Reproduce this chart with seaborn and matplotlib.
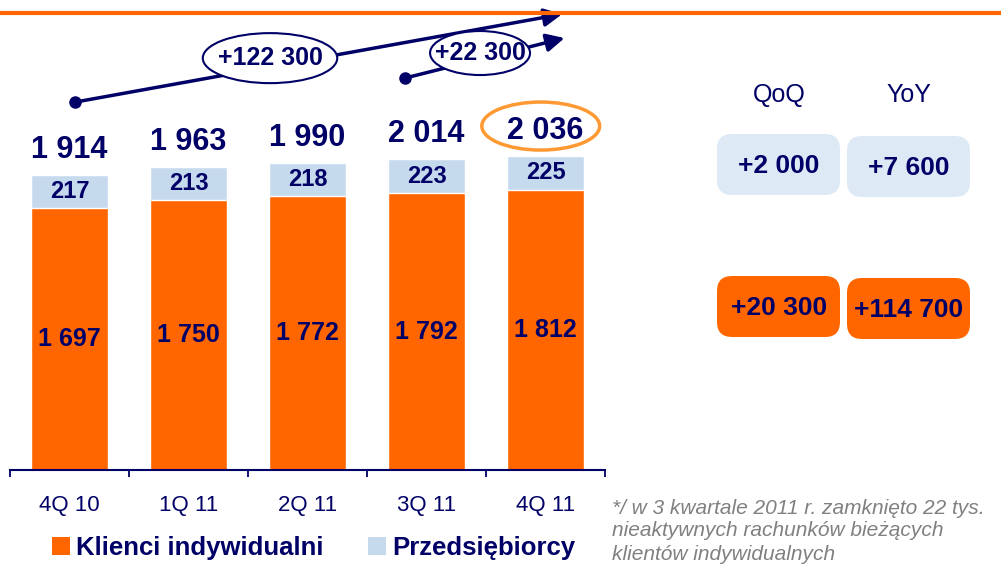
import matplotlib
matplotlib.use('Agg')
import matplotlib.pyplot as plt
import seaborn as sns
import pandas as pd
from matplotlib.patches import Ellipse, FancyBboxPatch, Patch
from matplotlib.lines import Line2D

# ---- data ----
quarters = ['4Q 10', '1Q 11', '2Q 11', '3Q 11', '4Q 11']
individual = [1697, 1750, 1772, 1792, 1812]
business = [217, 213, 218, 223, 225]
totals = [1914, 1963, 1990, 2014, 2036]
series_names = ['Klienci indywidualni', 'Przedsiębiorcy']
change_headers = ['QoQ', 'YoY']
business_changes = ['+2 000', '+7 600']
individual_changes = ['+20 300', '+114 700']
growth_labels = ['+122 300', '+22 300']
footnote = ['*/ w 3 kwartale 2011 r. zamknięto 22 tys.',
            'nieaktywnych rachunków bieżących',
            'klientów indywidualnych']

ORANGE = '#FF6600'
BLUE = '#C6DAEE'
LIGHTBOX = '#DDE9F5'
NAVY = '#000066'
GRAY = '#808080'
HILITE = '#FF9933'

sns.set_theme(style='white')
plt.rcParams['font.family'] = ['Liberation Sans', 'DejaVu Sans']

W, H = 1001, 566
fig = plt.figure(figsize=(W / 100, H / 100), dpi=100)
ax = fig.add_axes([10 / W, 1 - 470 / H, 595 / W, 450 / H])

df = pd.DataFrame({'quarter': quarters, 'individual': individual,
                   'business': business, 'total': totals})
sns.barplot(data=df, x='quarter', y='total', color=BLUE, width=0.65,
            saturation=1, ax=ax)
sns.barplot(data=df, x='quarter', y='individual', color=ORANGE, width=0.65,
            saturation=1, ax=ax)

ax.set_xlim(-0.5, len(quarters) - 0.5)
ax.set_ylim(0, 2915)
ax.set_xlabel('')
ax.set_ylabel('')
ax.set_yticks([])
for s in ['top', 'right', 'left']:
    ax.spines[s].set_visible(False)
ax.spines['bottom'].set_color(NAVY)
ax.spines['bottom'].set_linewidth(1.5)
ax.tick_params(axis='x', which='major', length=0, pad=18, labelsize=16,
               labelcolor=NAVY)
ax.set_xticks([i - 0.5 for i in range(len(quarters) + 1)], minor=True)
ax.tick_params(axis='x', which='minor', length=5, width=1.3, color=NAVY,
               direction='out', bottom=True)

# value labels
for i in range(len(quarters)):
    ax.text(i, individual[i] / 2, f'{individual[i]:,}'.replace(',', ' '),
            ha='center', va='center', fontsize=18, fontweight='bold', color=NAVY)
    ax.text(i, (individual[i] + totals[i]) / 2, str(business[i]),
            ha='center', va='center', fontsize=17, fontweight='bold', color=NAVY)
    ax.annotate(f'{totals[i]:,}'.replace(',', ' '), (i, totals[i]),
                xytext=(0, 18), textcoords='offset points', ha='center',
                va='center', fontsize=22, fontweight='bold', color=NAVY,
                annotation_clip=False)

# highlight ellipse around last total
ax.add_patch(Ellipse((3.96, 2228), 0.99, 311, fill=False, edgecolor=HILITE,
                     lw=2.5, clip_on=False, zorder=5))

# growth arrows
arrows = [((0.046, 2383), (4.14, 2953), (1.685, 2668), 1.13, 324),
          ((2.82, 2539), (4.16, 2798), (3.45, 2701), 0.84, 285)]
for (start, end, center, ew, eh), lab in zip(arrows, growth_labels):
    ax.annotate('', xy=end, xytext=start,
                arrowprops=dict(arrowstyle='-|>,head_length=0.6,head_width=0.3',
                                color=NAVY, lw=2.5,
                                mutation_scale=18, shrinkA=0, shrinkB=0),
                annotation_clip=False, zorder=6)
    ax.plot([start[0]], [start[1]], 'o', color=NAVY, ms=8, clip_on=False,
            zorder=7)
    ax.add_patch(Ellipse(center, ew, eh, facecolor='white', edgecolor=NAVY,
                         lw=1.5, clip_on=False, zorder=8))
    ax.text(center[0], center[1], lab, ha='center', va='center', fontsize=18,
            fontweight='bold', color=NAVY, zorder=9)

# top orange rule
fig.add_artist(Line2D([0, 1], [1 - 13 / H, 1 - 13 / H], color=ORANGE, lw=3,
                      transform=fig.transFigure))

# right panel
col_x = [779, 909]
for cx, hdr in zip(col_x, change_headers):
    fig.text(cx / W, 1 - 95 / H, hdr, ha='center', va='center', fontsize=18,
             color=NAVY)
box_rows = [(134, LIGHTBOX, business_changes), (276, ORANGE, individual_changes)]
for top, fc, labels in box_rows:
    for j, (cx, lab) in enumerate(zip(col_x, labels)):
        x0 = cx - 62
        y0 = top + 2 * j
        fig.add_artist(FancyBboxPatch((x0 / W, 1 - (y0 + 61) / H), 123 / W, 61 / H,
                                      boxstyle='round,pad=0,rounding_size=0.015',
                                      transform=fig.transFigure, facecolor=fc,
                                      edgecolor='none', mutation_aspect=W / H))
        fig.text(cx / W, 1 - (y0 + 32) / H, lab, ha='center', va='center',
                 fontsize=19, fontweight='bold', color=NAVY)

# footnote
for k, line in enumerate(footnote):
    fig.text(612 / W, 1 - (508 + 23 * k) / H, line, ha='left', va='center',
             fontsize=15, style='italic', color=GRAY)

# legend
handles = [Patch(facecolor=ORANGE, edgecolor='none'),
           Patch(facecolor=BLUE, edgecolor='none')]
fig.legend(handles, series_names, loc='center left',
           bbox_to_anchor=(52 / W, 1 - 548 / H), ncol=2, frameon=False,
           prop={'weight': 'bold', 'size': 18.5}, labelcolor=NAVY,
           handlelength=0.7, handleheight=0.7, handletextpad=0.25,
           columnspacing=1.7, borderpad=0, borderaxespad=0)

fig.savefig('out.png', dpi=100)
